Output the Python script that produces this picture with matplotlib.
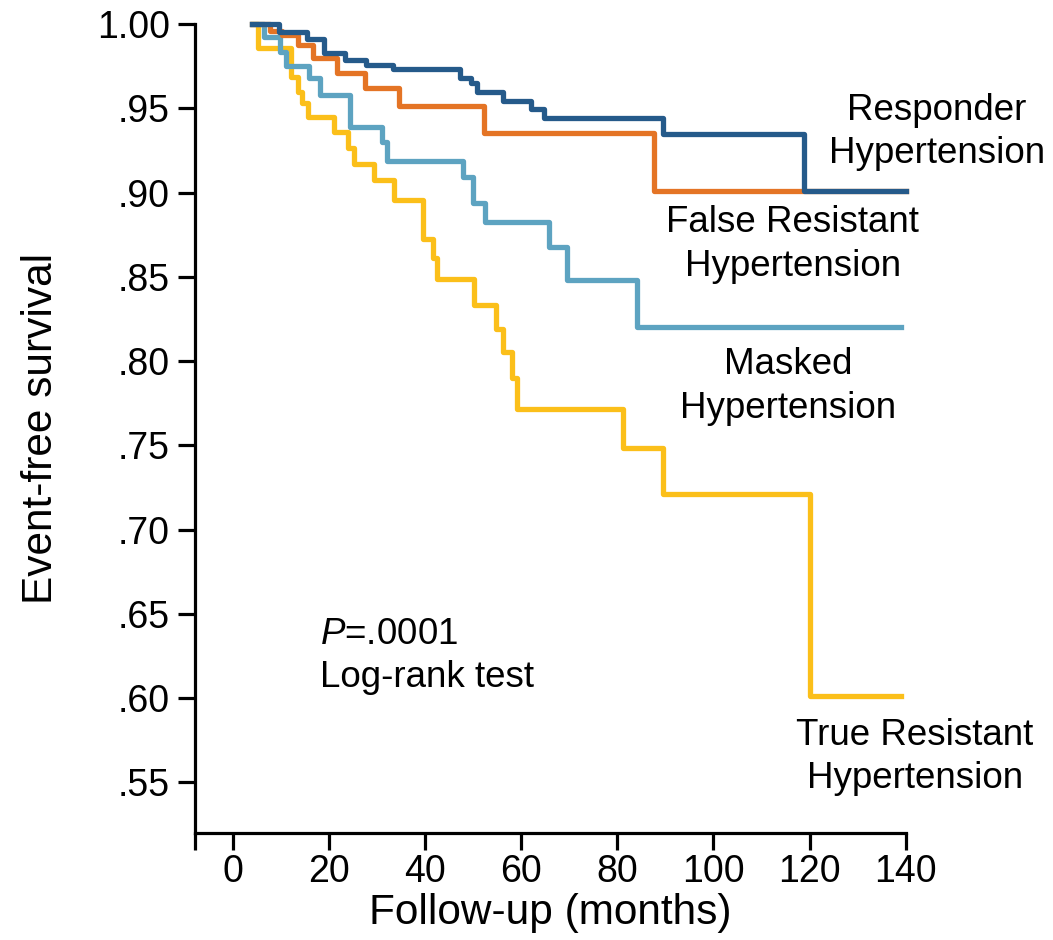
"""Kaplan-Meier event-free survival by hypertension phenotype."""

import matplotlib

matplotlib.use("Agg")
import matplotlib.pyplot as plt

# step curves (months, survival after each step)
responder_t = [4, 9.6, 15.3, 18.9, 23.3, 27.7, 33.3, 47.3, 49.6, 50.7, 56.2, 61.9, 64.7, 89.5, 118.8, 140]
responder_s = [1.0, 0.9954, 0.9909, 0.983, 0.9786, 0.9757, 0.9731, 0.9678, 0.9648, 0.9594, 0.9545,
               0.9495, 0.9444, 0.9345, 0.901, 0.901]

false_res_t = [4, 7.7, 10.1, 13.4, 16.7, 21.6, 27.5, 34.5, 52.2, 87.6, 140]
false_res_s = [1.0, 0.996, 0.9935, 0.9875, 0.9796, 0.9707, 0.9618, 0.9515, 0.9355, 0.901, 0.901]

masked_t = [4, 6.4, 9.8, 11.0, 15.7, 18.1, 24.3, 30.9, 32.0, 47.8, 49.9, 52.4, 65.8, 69.4, 84.0, 139]
masked_s = [1.0, 0.9925, 0.9836, 0.975, 0.9678, 0.9578, 0.9387, 0.930, 0.9188, 0.909, 0.8939,
            0.8826, 0.8674, 0.848, 0.820, 0.820]

true_res_t = [4.2, 5.1, 12.1, 13.4, 14.4, 15.5, 20.9, 23.8, 25.2, 29.4, 33.5, 39.6, 41.7, 42.5,
              50.1, 54.7, 56.2, 58.0, 59.0, 81.1, 89.4, 120.0, 139]
true_res_s = [1.0, 0.986, 0.9687, 0.9598, 0.9529, 0.945, 0.936, 0.9267, 0.9169, 0.9076, 0.8957,
              0.8725, 0.8609, 0.8484, 0.8331, 0.8193, 0.8054, 0.79, 0.7718, 0.7484, 0.7213, 0.601, 0.601]

x_ticks = [0, 20, 40, 60, 80, 100, 120, 140]
y_ticks = [0.55, 0.60, 0.65, 0.70, 0.75, 0.80, 0.85, 0.90, 0.95, 1.00]
y_labels = [".55", ".60", ".65", ".70", ".75", ".80", ".85", ".90", ".95", "1.00"]

plt.rcParams["font.family"] = ["Liberation Sans", "DejaVu Sans"]
plt.rcParams["mathtext.fontset"] = "custom"
plt.rcParams["mathtext.rm"] = "Liberation Sans"
plt.rcParams["mathtext.it"] = "Liberation Sans:italic"

fig = plt.figure(figsize=(10.53, 9.40), dpi=100)
ax = fig.add_axes([0.185, 0.1138, 0.675, 0.8607])

lw = 3.8
ax.step(true_res_t, true_res_s, where="post", color="#FBBF1A", lw=lw, clip_on=False)
ax.step(masked_t, masked_s, where="post", color="#5DA3C1", lw=lw, clip_on=False)
ax.step(false_res_t, false_res_s, where="post", color="#E47425", lw=lw, clip_on=False)
ax.step(responder_t, responder_s, where="post", color="#255A8A", lw=lw, clip_on=False)

ax.set_xlim(-8, 140)
ax.set_ylim(0.52, 1.0)
ax.set_xticks(x_ticks)
ax.set_xticks([-8], minor=True)
ax.set_yticks(y_ticks)
ax.set_yticklabels(y_labels)

for side in ("top", "right"):
    ax.spines[side].set_visible(False)
for side in ("left", "bottom"):
    ax.spines[side].set_linewidth(2.3)
ax.tick_params(which="both", direction="out", length=12, width=2.3, labelsize=27, pad=6)
ax.tick_params(axis="x", pad=3)

ax.set_xlabel("Follow-up (months)", fontsize=30.5, labelpad=2)
ax.set_ylabel("Event-free survival", fontsize=30.5, labelpad=26)

txt = dict(fontsize=26.5, ha="center", va="center", linespacing=1.32)
ax.text(146.5, 0.936, "Responder\nHypertension", **txt)
ax.text(116.5, 0.869, "False Resistant\nHypertension", **txt)
ax.text(115.5, 0.785, "Masked\nHypertension", **txt)
ax.text(141.9, 0.565, "True Resistant\nHypertension", **txt)
ax.text(18.1, 0.625, "$\\it{P}$=.0001\nLog-rank test", fontsize=26.5, ha="left", va="center",
        linespacing=1.32)

fig.savefig("out.png", dpi=100)
plt.close(fig)
